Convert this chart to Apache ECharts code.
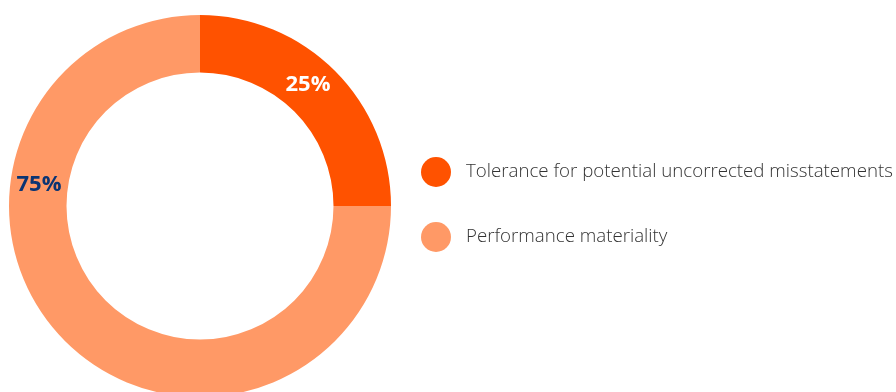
<!DOCTYPE html>
<html>
<head>
<meta charset="utf-8">
<script src="https://cdn.jsdelivr.net/npm/echarts@6/dist/echarts.min.js"></script>
<style>html,body{margin:0;padding:0;background:#fff}#c{width:896px;height:392px}</style>
</head>
<body>
<div id="c"></div>
<script>
const categories = ['Tolerance for potential uncorrected misstatements', 'Performance materiality'];
const values = [25, 75];
const colors = ['#FF5200', '#FF9966'];
const labelColors = ['#FFFFFF', '#0B3473'];

const chart = echarts.init(document.getElementById('c'));
chart.setOption({
  animation: false,
  legend: {
    orient: 'vertical',
    left: 421,
    top: 157,
    padding: 0,
    icon: 'circle',
    itemWidth: 30,
    itemHeight: 30,
    itemGap: 35,
    textStyle: { fontFamily: 'Open Sans', fontSize: 18.7, fontWeight: 300, color: '#333', padding: [0, 0, 0, 10] },
    data: categories
  },
  series: [{
    type: 'pie',
    center: [200, 206],
    radius: [133.5, 191],
    startAngle: 90,
    clockwise: true,
    silent: true,
    label: {
      show: true,
      position: 'inside',
      formatter: '{d}%',
      fontFamily: 'Open Sans',
      fontWeight: 'bold',
      fontSize: 22
    },
    labelLine: { show: false },
    labelLayout: function (p) {
      if (p.dataIndex === 0) return { x: 308, y: 85 };
      return { x: 39, y: 185 };
    },
    data: categories.map((n, i) => ({
      name: n, value: values[i],
      itemStyle: { color: colors[i] },
      label: { color: labelColors[i] }
    }))
  }]
});
</script>
</body>
</html>
